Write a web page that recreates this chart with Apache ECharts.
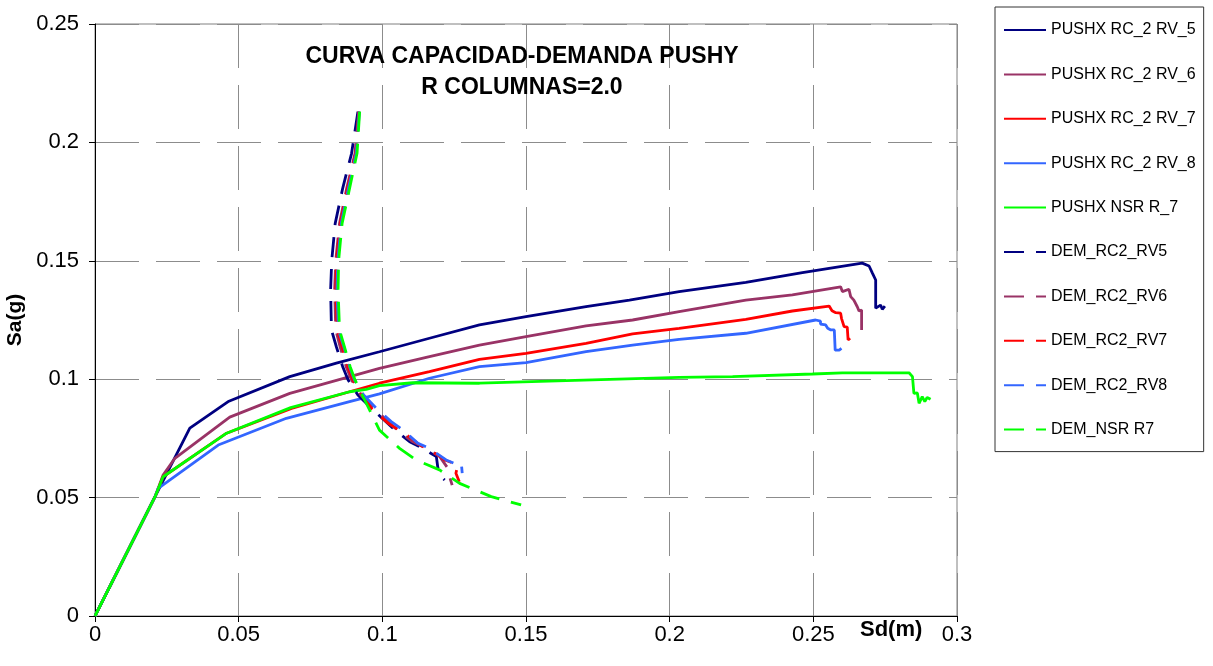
<!DOCTYPE html>
<html>
<head>
<meta charset="utf-8">
<script src="https://cdn.jsdelivr.net/npm/echarts@6/dist/echarts.min.js"></script>
<style>
  html, body { margin: 0; padding: 0; background: #fff; }
  #chart { width: 1213px; height: 666px; }
</style>
</head>
<body>
<div id="chart"></div>
<script>
// Axis ticks
const sdTicks = [0, 0.05, 0.1, 0.15, 0.2, 0.25, 0.3];
const saTicks = [0, 0.05, 0.1, 0.15, 0.2, 0.25];

// Series names
const names = [
  'PUSHX RC_2 RV_5', 'PUSHX RC_2 RV_6', 'PUSHX RC_2 RV_7', 'PUSHX RC_2 RV_8', 'PUSHX NSR R_7',
  'DEM_RC2_RV5', 'DEM_RC2_RV6', 'DEM_RC2_RV7', 'DEM_RC2_RV8', 'DEM_NSR R7'
];
const colors = ['#000080', '#993366', '#FF0000', '#3366FF', '#00FF00'];

// Capacity curves [Sd (m), Sa (g)]
const pushRV5 = [[0,0],[0.0209,0.0504],[0.033,0.0793],[0.0466,0.0907],[0.0678,0.1011],[0.084,0.1068],[0.099,0.1116],[0.1164,0.1173],[0.1338,0.1229],[0.150,0.1264],[0.1709,0.1306],[0.186,0.1334],[0.2033,0.137],[0.2265,0.1409],[0.2462,0.145],[0.267,0.149],[0.2694,0.1478],[0.2706,0.1447],[0.2717,0.1419],[0.2717,0.130],[0.2734,0.1313],[0.274,0.1295],[0.2749,0.1309]];
const pushRV6 = [[0,0],[0.0209,0.0504],[0.0237,0.0595],[0.0278,0.0666],[0.0469,0.084],[0.0678,0.094],[0.099,0.1046],[0.1164,0.1095],[0.1338,0.1144],[0.150,0.118],[0.1709,0.1225],[0.1871,0.125],[0.2033,0.1285],[0.2265,0.1334],[0.2427,0.1356],[0.2595,0.139],[0.2601,0.137],[0.2624,0.138],[0.263,0.1349],[0.2641,0.1334],[0.2653,0.1306],[0.2659,0.1288],[0.2668,0.1292],[0.2668,0.1208]];
const pushRV7 = [[0,0],[0.0209,0.0504],[0.0237,0.0588],[0.0458,0.0772],[0.0684,0.0877],[0.0886,0.0947],[0.099,0.0983],[0.1164,0.1032],[0.1338,0.1084],[0.150,0.1109],[0.1709,0.1151],[0.1871,0.1191],[0.2033,0.1215],[0.2265,0.1253],[0.2427,0.1288],[0.2555,0.1309],[0.2565,0.1289],[0.2578,0.1281],[0.2595,0.1279],[0.2598,0.1257],[0.2607,0.1222],[0.2618,0.122],[0.2621,0.1166],[0.2628,0.1173]];
const pushRV8 = [[0,0],[0.0209,0.0504],[0.022,0.0539],[0.0429,0.0722],[0.0666,0.0835],[0.0886,0.0905],[0.099,0.0938],[0.1164,0.1004],[0.1338,0.1053],[0.150,0.107],[0.1709,0.1116],[0.1871,0.1144],[0.2033,0.1168],[0.2265,0.1194],[0.2508,0.125],[0.2525,0.1245],[0.2525,0.1233],[0.2543,0.1229],[0.255,0.1215],[0.2561,0.1208],[0.2573,0.1208],[0.2576,0.1123],[0.259,0.1123],[0.2598,0.113]];
const pushNSR = [[0,0],[0.0209,0.0504],[0.0237,0.0588],[0.0458,0.0772],[0.0681,0.088],[0.0886,0.0947],[0.0944,0.0957],[0.099,0.0973],[0.1106,0.0985],[0.1338,0.0983],[0.164,0.0994],[0.2033,0.1008],[0.2219,0.1011],[0.2497,0.1022],[0.2601,0.1027],[0.2833,0.1027],[0.2845,0.1011],[0.285,0.094],[0.2862,0.0942],[0.2868,0.0898],[0.2879,0.0926],[0.2888,0.0905],[0.2896,0.0923],[0.2908,0.0915]];

// Demand curves [Sd (m), Sa (g)]
const demRV5 = [[0.0915,0.213],[0.0893,0.1954],[0.0862,0.1806],[0.0836,0.1658],[0.0824,0.1503],[0.082,0.1377],[0.0823,0.1208],[0.084,0.1137],[0.0862,0.1053],[0.0881,0.0997],[0.0915,0.0933],[0.0952,0.0889],[0.1037,0.0793],[0.1095,0.0736],[0.113,0.0715],[0.1188,0.0673],[0.1193,0.0628],[0.1205,0.0588],[0.1217,0.0574]];
const demRV6 = [[0.0918,0.213],[0.0905,0.1954],[0.0876,0.1806],[0.0851,0.1658],[0.0838,0.1503],[0.0834,0.1377],[0.0838,0.1208],[0.0853,0.1137],[0.0874,0.1053],[0.0893,0.0997],[0.0925,0.0933],[0.096,0.0889],[0.1045,0.0793],[0.1103,0.0738],[0.114,0.0716],[0.1198,0.0676],[0.1228,0.0624],[0.1234,0.0588],[0.1243,0.0553]];
const demRV7 = [[0.0919,0.213],[0.0907,0.1954],[0.0879,0.1806],[0.0854,0.1658],[0.0841,0.1503],[0.0838,0.1377],[0.0843,0.1208],[0.086,0.1137],[0.088,0.1053],[0.0898,0.0997],[0.093,0.0933],[0.0962,0.0877],[0.102,0.0814],[0.1075,0.0773],[0.113,0.0723],[0.1193,0.068],[0.1217,0.0659],[0.1263,0.0638],[0.1256,0.0603],[0.1268,0.0567]];
const demRV8 = [[0.092,0.213],[0.0909,0.1954],[0.0882,0.1806],[0.0857,0.1658],[0.0845,0.1503],[0.0842,0.1377],[0.0847,0.1208],[0.0866,0.1137],[0.0886,0.1053],[0.0903,0.0997],[0.0935,0.0933],[0.0979,0.0877],[0.1031,0.0821],[0.1072,0.0785],[0.1124,0.0729],[0.1164,0.0708],[0.1222,0.0659],[0.1263,0.0638],[0.1275,0.0645],[0.1278,0.0603]];
const demNSR = [[0.0921,0.213],[0.0912,0.1954],[0.0886,0.1806],[0.086,0.1658],[0.0848,0.1503],[0.0846,0.1377],[0.0851,0.1208],[0.0868,0.1137],[0.0888,0.1053],[0.0905,0.0997],[0.093,0.0933],[0.095,0.0884],[0.099,0.0785],[0.106,0.0708],[0.1118,0.0659],[0.1199,0.0617],[0.1269,0.056],[0.1379,0.0504],[0.1483,0.0469]];

const capacity = [pushRV5, pushRV6, pushRV7, pushRV8, pushNSR];
const demand = [demRV5, demRV6, demRV7, demRV8, demNSR];

const FONT = '"Liberation Sans", Arial, sans-serif';
const fmt = v => String(+v.toFixed(2));

const series = [];
capacity.forEach((d, i) => {
  series.push({
    name: names[i], type: 'line', data: d, symbol: 'none', smooth: false,
    lineStyle: { color: colors[i], width: 2.8 }, itemStyle: { color: colors[i] }, z: 2
  });
});
demand.forEach((d, i) => {
  series.push({
    name: names[5 + i], type: 'line', data: d, symbol: 'none', smooth: false,
    lineStyle: { color: colors[i], width: 2.8, type: [20, 12] }, itemStyle: { color: colors[i] }, z: 3
  });
});

const chart = echarts.init(document.getElementById('chart'), null, { renderer: 'canvas' });
chart.setOption({
  animation: false,
  backgroundColor: '#fff',
  textStyle: { fontFamily: FONT },
  title: {
    text: 'CURVA CAPACIDAD-DEMANDA PUSHY\nR COLUMNAS=2.0',
    left: 517, top: 36, textAlign: 'center',
    textStyle: { fontFamily: FONT, fontSize: 23, fontWeight: 'bold', color: '#000', lineHeight: 31 }
  },
  grid: {
    left: 95, top: 24, right: 256, bottom: 50,
    outerBoundsMode: 'none', containLabel: false,
    show: true, borderColor: '#808080', borderWidth: 1, backgroundColor: 'transparent'
  },
  legend: {
    orient: 'vertical', left: 995, top: 7,
    itemWidth: 42, itemHeight: 16, itemGap: 28.4,
    padding: [15, 8, 14, 8],
    borderColor: '#333', borderWidth: 1,
    itemStyle: { opacity: 0 },
    textStyle: { fontFamily: FONT, fontSize: 16, color: '#000' },
    data: names
  },
  xAxis: {
    type: 'value',
    min: sdTicks[0], max: sdTicks[sdTicks.length - 1], interval: sdTicks[1] - sdTicks[0],
    axisLine: { show: true, lineStyle: { color: '#000', width: 1 } },
    axisTick: { show: true, length: 6, lineStyle: { color: '#000' } },
    axisLabel: { formatter: fmt, fontFamily: FONT, fontSize: 22, color: '#000', margin: 8 },
    splitLine: { show: true, lineStyle: { color: '#8c8c8c', width: 1, type: [44, 17] } }
  },
  yAxis: {
    type: 'value',
    min: saTicks[0], max: saTicks[saTicks.length - 1], interval: saTicks[1] - saTicks[0],
    name: 'Sa(g)', nameLocation: 'middle', nameGap: 63,
    nameTextStyle: { fontFamily: FONT, fontSize: 21, fontWeight: 'bold', color: '#000' },
    axisLine: { show: true, lineStyle: { color: '#000', width: 1 } },
    axisTick: { show: true, length: 6, lineStyle: { color: '#000' } },
    axisLabel: { formatter: fmt, fontFamily: FONT, fontSize: 22, color: '#000', margin: 16 },
    splitLine: { show: true, lineStyle: { color: '#8c8c8c', width: 1, type: [44, 17] } }
  },
  graphic: [{
    type: 'text', left: 860, top: 619,
    style: { text: 'Sd(m)', font: 'bold 22px ' + FONT, fill: '#000' }
  }],
  series: series
});
</script>
</body>
</html>
